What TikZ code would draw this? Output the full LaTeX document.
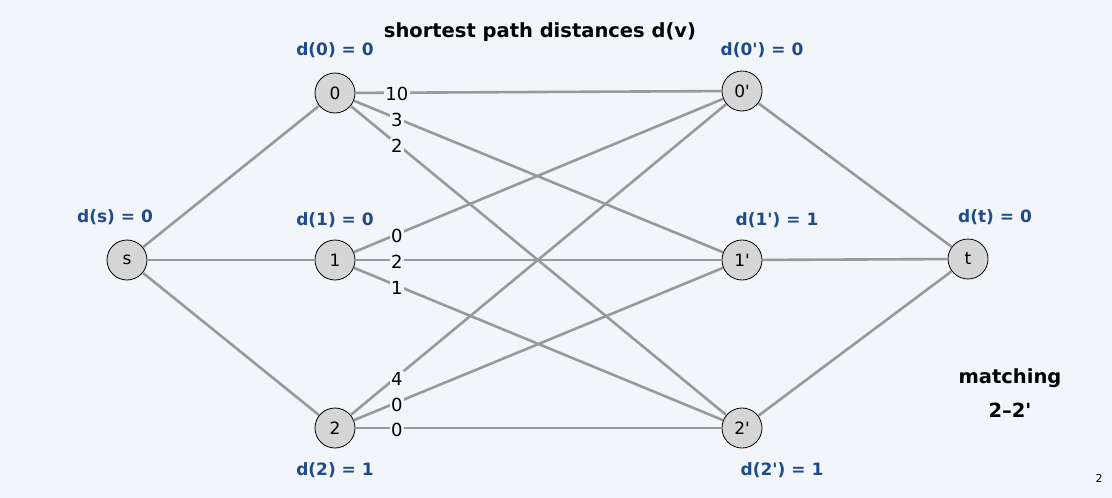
\documentclass[tikz,border=0pt]{standalone}
\usepackage{fontspec}
\newfontfamily\df{DejaVu Sans}
\usetikzlibrary{calc}
\begin{document}
\begin{tikzpicture}[x=1pt,y=-1pt,
  vtx/.style={circle,draw=black,fill=nodegray,line width=0.8pt,minimum size=40pt,inner sep=0pt,font=\df\fontsize{17}{17}\selectfont},
  edge/.style={draw=edgegray,line width=2.6pt},
  wt/.style={fill=bgc,inner sep=1.5pt,font=\df\fontsize{18}{18}\selectfont},
  dist/.style={text=distblue,font=\df\bfseries\fontsize{17}{17}\selectfont},
  ttl/.style={font=\df\bfseries\fontsize{19.5}{19.5}\selectfont}]
\definecolor{bgc}{HTML}{F2F5F9}
\definecolor{nodegray}{HTML}{D6D6D6}
\definecolor{edgegray}{HTML}{999999}
\definecolor{distblue}{HTML}{1F4B8A}
\fill[bgc] (0,0) rectangle (1112,498);
\useasboundingbox (0,0) rectangle (1112,498);
\node[vtx] (s) at (127,260) {s};
\node[vtx] (n0) at (335,93) {0};
\node[vtx] (n1) at (335,260) {1};
\node[vtx] (n2) at (335,428) {2};
\node[vtx] (p0) at (742,91) {0'};
\node[vtx] (p1) at (742,260) {1'};
\node[vtx] (p2) at (742,428) {2'};
\node[vtx] (t) at (968,259) {t};
\draw[edge] (s) -- (n0);
\draw[edge] (s) -- (n1);
\draw[edge] (s) -- (n2);
\draw[edge] (p0) -- (t);
\draw[edge] (p1) -- (t);
\draw[edge] (p2) -- (t);
\draw[edge] (n0) -- (p0);
\draw[edge] (n0) -- (p1);
\draw[edge] (n0) -- (p2);
\draw[edge] (n1) -- (p0);
\draw[edge] (n1) -- (p1);
\draw[edge] (n1) -- (p2);
\draw[edge] (n2) -- (p0);
\draw[edge] (n2) -- (p1);
\draw[edge] (n2) -- (p2);
\node[wt] (w00) at ($(n0)!0.152!(p0)+(0,1)$) {10};
\node[wt] (w01) at ($(n0)!0.152!(p1)+(0,2)$) {3};
\node[wt] (w02) at ($(n0)!0.152!(p2)+(0,2)$) {2};
\node[wt] (w10) at ($(n1)!0.152!(p0)+(0,2)$) {0};
\node[wt] (w11) at ($(n1)!0.152!(p1)+(0,2)$) {2};
\node[wt] (w12) at ($(n1)!0.152!(p2)+(0,2)$) {1};
\node[wt] (w20) at ($(n2)!0.152!(p0)+(0,2)$) {4};
\node[wt] (w21) at ($(n2)!0.152!(p1)+(0,2)$) {0};
\node[wt] (w22) at ($(n2)!0.152!(p2)+(0,2)$) {0};
\node[ttl] (title) at (540,32) {shortest path distances d(v)};
\node[dist] (ds) at (115,217) {d(s) = 0};
\node[dist] (d0) at (335,50) {d(0) = 0};
\node[dist] (d1) at (335,220) {d(1) = 0};
\node[dist] (d2) at (335,470) {d(2) = 1};
\node[dist] (dp0) at (762,50) {d(0') = 0};
\node[dist] (dp1) at (777,220) {d(1') = 1};
\node[dist] (dp2) at (782,470) {d(2') = 1};
\node[dist] (dt) at (995,217) {d(t) = 0};
\node[ttl] (match) at (1010,378) {matching};
\node[ttl] (pair) at (1010,410) {2–2'};
\node[font=\df\fontsize{11}{11}\selectfont] (pg) at (1099,478) {2};
\end{tikzpicture}
\end{document}
